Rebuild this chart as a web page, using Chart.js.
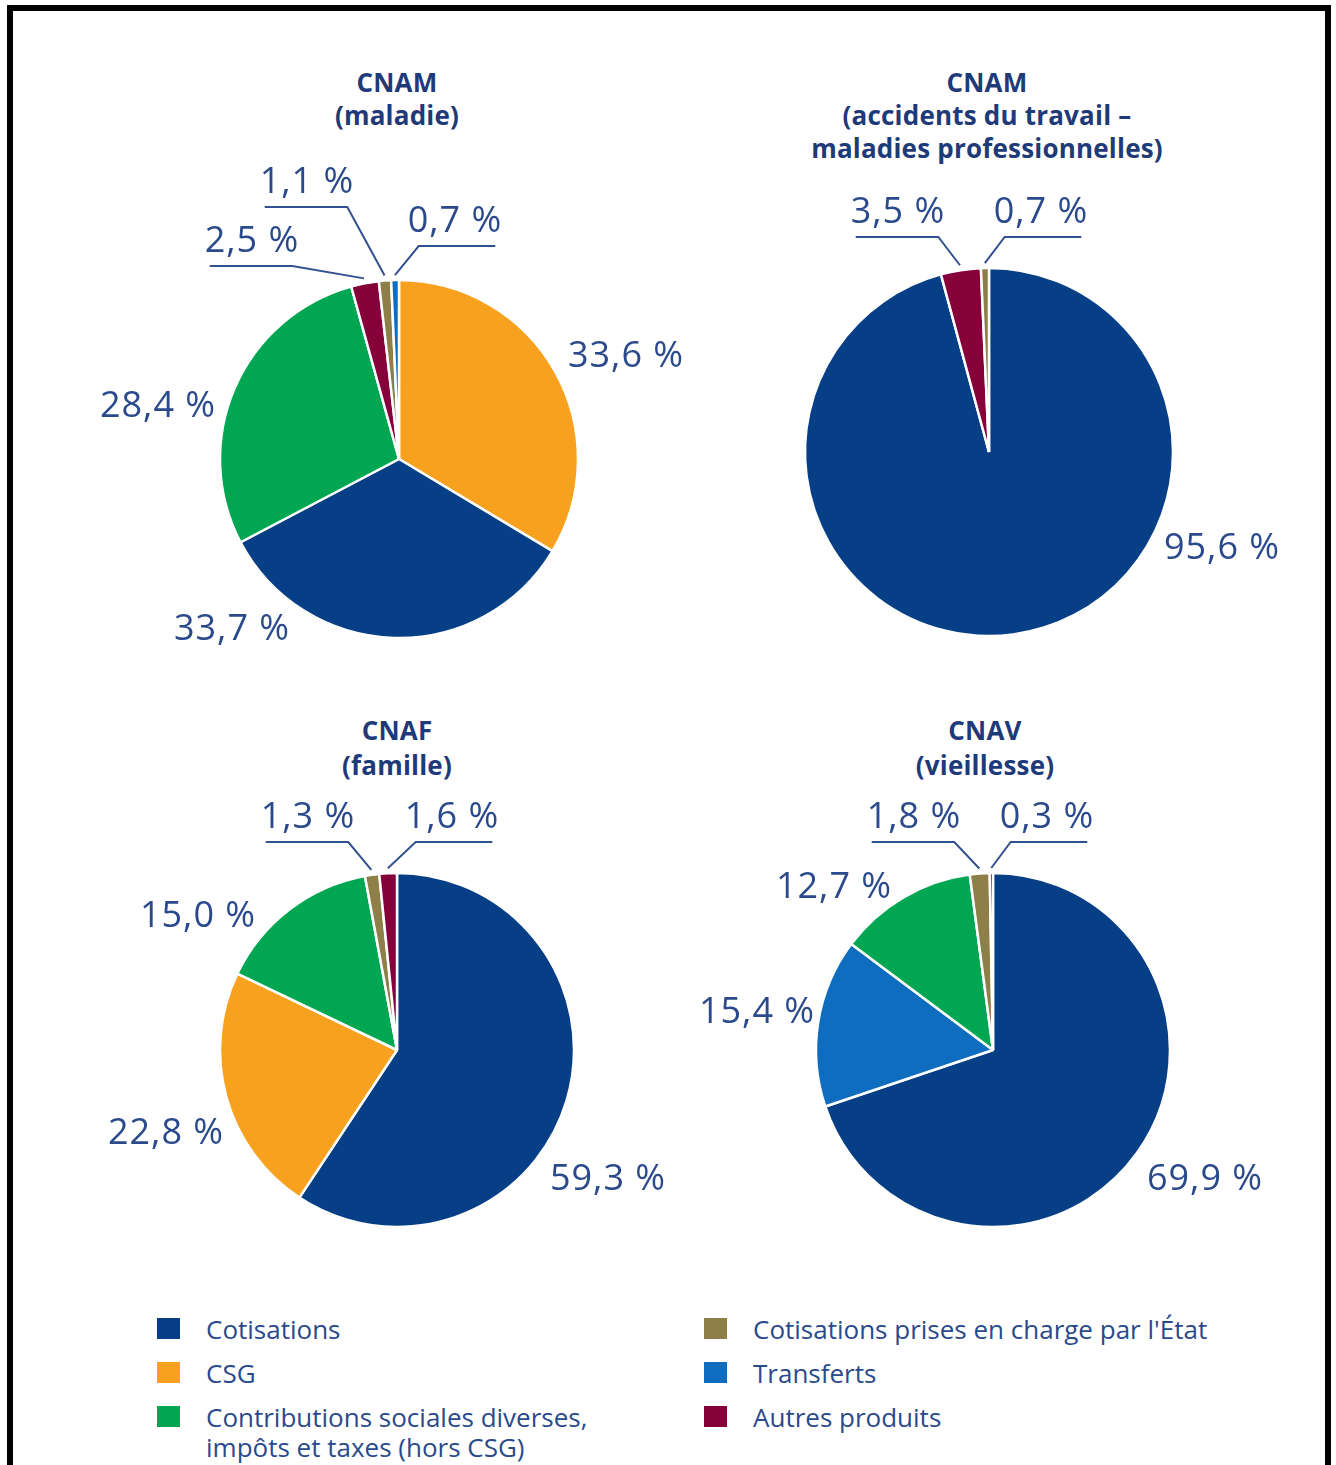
<!DOCTYPE html>
<html lang="fr">
<head>
<meta charset="utf-8">
<title>Structure des recettes par branche</title>
<script src="https://cdn.jsdelivr.net/npm/chart.js@4.4.1/dist/chart.umd.min.js"></script>
<style>
  html, body { margin: 0; padding: 0; background: #fff; }
  #page { position: relative; width: 1336px; height: 1465px; overflow: hidden; font-family: "Open Sans", "Noto Sans", sans-serif; }
  #frame { position: absolute; left: 7px; top: 5px; width: 1324px; height: 1480px; border: 6px solid #000; border-bottom: none; box-sizing: border-box; }
  .pie { position: absolute; }
  .title { position: absolute; width: 500px; text-align: center; font-weight: 700; font-size: 26px; letter-spacing: 0.2px; color: #1e3a78; }
  .legend { position: absolute; top: 1314px; }
  .legend .item { position: relative; padding-left: 49px; font-size: 26px; font-weight: 500; line-height: 30px; color: #2a4a8c; margin-bottom: 14px; }
  .legend .sw { position: absolute; left: 0; top: 4px; width: 23px; height: 21px; }
</style>
</head>
<body>
<div id="page">
  <div id="frame"></div>

  <div class="title" style="left:147px; top:66px; line-height:33px;">CNAM<br>(maladie)</div>
  <div class="title" style="left:737px; top:66px; line-height:33px;">CNAM<br>(accidents du travail –<br>maladies professionnelles)</div>
  <div class="title" style="left:147px; top:713px; line-height:35px;">CNAF<br>(famille)</div>
  <div class="title" style="left:735px; top:713px; line-height:35px;">CNAV<br>(vieillesse)</div>

  <canvas id="pieMaladie" class="pie" width="720" height="560" style="left:0px; top:160px;"></canvas>
  <canvas id="pieAtmp" class="pie" width="700" height="560" style="left:636px; top:160px;"></canvas>
  <canvas id="pieFamille" class="pie" width="720" height="520" style="left:0px; top:780px;"></canvas>
  <canvas id="pieVieillesse" class="pie" width="700" height="520" style="left:636px; top:780px;"></canvas>

  <div class="legend" id="legendLeft" style="left:157px; width:470px;"></div>
  <div class="legend" id="legendRight" style="left:704px; width:580px;"></div>
</div>

<script>
// --- Data ---
const categories = [
  'Cotisations',
  'CSG',
  'Contributions sociales diverses, impôts et taxes (hors CSG)',
  "Cotisations prises en charge par l'État",
  'Transferts',
  'Autres produits'
];
const categoryColors = ['#073f87', '#f7a11f', '#00a651', '#8e7e47', '#0f6dbf', '#86003a'];

// slices listed clockwise from 12 o'clock
const maladieLabels = ['CSG', 'Cotisations', categories[2], 'Autres produits', categories[3], 'Transferts'];
const maladieValues = [33.6, 33.7, 28.4, 2.5, 1.1, 0.7];

const atmpLabels = ['Cotisations', 'Autres produits', categories[3]];
const atmpValues = [95.6, 3.5, 0.7];

const familleLabels = ['Cotisations', 'CSG', categories[2], categories[3], 'Autres produits'];
const familleValues = [59.3, 22.8, 15.0, 1.3, 1.6];

const vieillesseLabels = ['Cotisations', 'Transferts', categories[2], categories[3], 'Autres produits'];
const vieillesseValues = [69.9, 15.4, 12.7, 1.8, 0.3];

// --- Label placement (offset of text centre from pie centre, leader side) ---
const maladieLayout = [[227, -102], [-167, 171], [-241, -52], [-147, -217, 'L'], [-92, -276, 'L'], [56, -237, 'R']];
const atmpLayout = [[233, 97], [-91, -239, 'L'], [52, -239, 'R']];
const familleLayout = [[211, 130], [-231, 84], [-199, -133], [-89, -232, 'L'], [55, -232, 'R']];
const vieillesseLayout = [[212, 130], [-236, -37], [-159, -162], [-79, -232, 'L'], [54, -232, 'R']];

const TEXT_COLOR = '#2a4a8c';
const LINE_COLOR = '#33518f';
const BORDER = 2.5;

function fmt(v) {
  return v.toFixed(1).replace('.', ',') + ' %';
}

// Draws the percentage labels and the leader lines of the thin slices
const pieLabels = {
  id: 'pieLabels',
  afterDatasetsDraw(chart, args, opts) {
    const ctx = chart.ctx;
    const meta = chart.getDatasetMeta(0);
    const values = chart.data.datasets[0].data;
    ctx.save();
    ctx.font = '500 36px "Open Sans", "Noto Sans", sans-serif';
    if ('letterSpacing' in ctx) ctx.letterSpacing = '1px';
    ctx.fillStyle = TEXT_COLOR;
    ctx.textAlign = 'center';
    ctx.textBaseline = 'middle';
    meta.data.forEach((arc, i) => {
      const p = arc.getProps(['x', 'y', 'startAngle', 'endAngle', 'outerRadius'], true);
      const lay = opts.layout[i];
      const tx = p.x + lay[0];
      const ty = p.y + lay[1];
      const txt = fmt(values[i]);
      ctx.fillText(txt, tx, ty);
      if (lay[2]) {
        const w = ctx.measureText(txt).width;
        const mid = (p.startAngle + p.endAngle) / 2;
        const sx = p.x + Math.cos(mid) * (p.outerRadius + 5);
        const sy = p.y + Math.sin(mid) * (p.outerRadius + 5);
        const ly = ty + 24;
        const x1 = tx - w / 2 + 5;
        const x2 = tx + w / 2 - 7;
        ctx.strokeStyle = LINE_COLOR;
        ctx.lineWidth = 2;
        ctx.beginPath();
        if (lay[2] === 'L') {
          ctx.moveTo(x1, ly);
          ctx.lineTo(x2, ly);
          ctx.lineTo(sx, sy);
        } else {
          ctx.moveTo(x2, ly);
          ctx.lineTo(x1 + 6, ly);
          ctx.lineTo(sx, sy);
        }
        ctx.stroke();
      }
    });
    ctx.restore();
  }
};

function makePie(id, labels, values, layout, cx, cy, r) {
  const canvas = document.getElementById(id);
  const left = canvas.offsetLeft;
  const top = canvas.offsetTop;
  const lx = cx - left, ly = cy - top;
  const half = r + BORDER / 2;
  return new Chart(canvas, {
    type: 'pie',
    data: {
      labels: labels,
      datasets: [{
        data: values,
        backgroundColor: labels.map(l => categoryColors[categories.indexOf(l)]),
        borderColor: '#ffffff',
        borderWidth: BORDER
      }]
    },
    options: {
      responsive: false,
      animation: false,
      layout: {
        padding: {
          left: lx - half,
          right: canvas.width - lx - half,
          top: ly - half,
          bottom: canvas.height - ly - half
        }
      },
      plugins: {
        legend: { display: false },
        tooltip: { enabled: false },
        pieLabels: { layout: layout }
      }
    },
    plugins: [pieLabels]
  });
}

makePie('pieMaladie', maladieLabels, maladieValues, maladieLayout, 399, 459, 179);
makePie('pieAtmp', atmpLabels, atmpValues, atmpLayout, 989, 452, 184);
makePie('pieFamille', familleLabels, familleValues, familleLayout, 397, 1050, 177);
makePie('pieVieillesse', vieillesseLabels, vieillesseValues, vieillesseLayout, 993, 1050, 177);

// --- Shared legend ---
function legendItem(i) {
  const d = document.createElement('div');
  d.className = 'item';
  const sw = document.createElement('span');
  sw.className = 'sw';
  sw.style.background = categoryColors[i];
  d.appendChild(sw);
  d.appendChild(document.createTextNode(categories[i]));
  return d;
}
const legLeft = document.getElementById('legendLeft');
const legRight = document.getElementById('legendRight');
[0, 1, 2].forEach(i => legLeft.appendChild(legendItem(i)));
[3, 4, 5].forEach(i => legRight.appendChild(legendItem(i)));
</script>
</body>
</html>
